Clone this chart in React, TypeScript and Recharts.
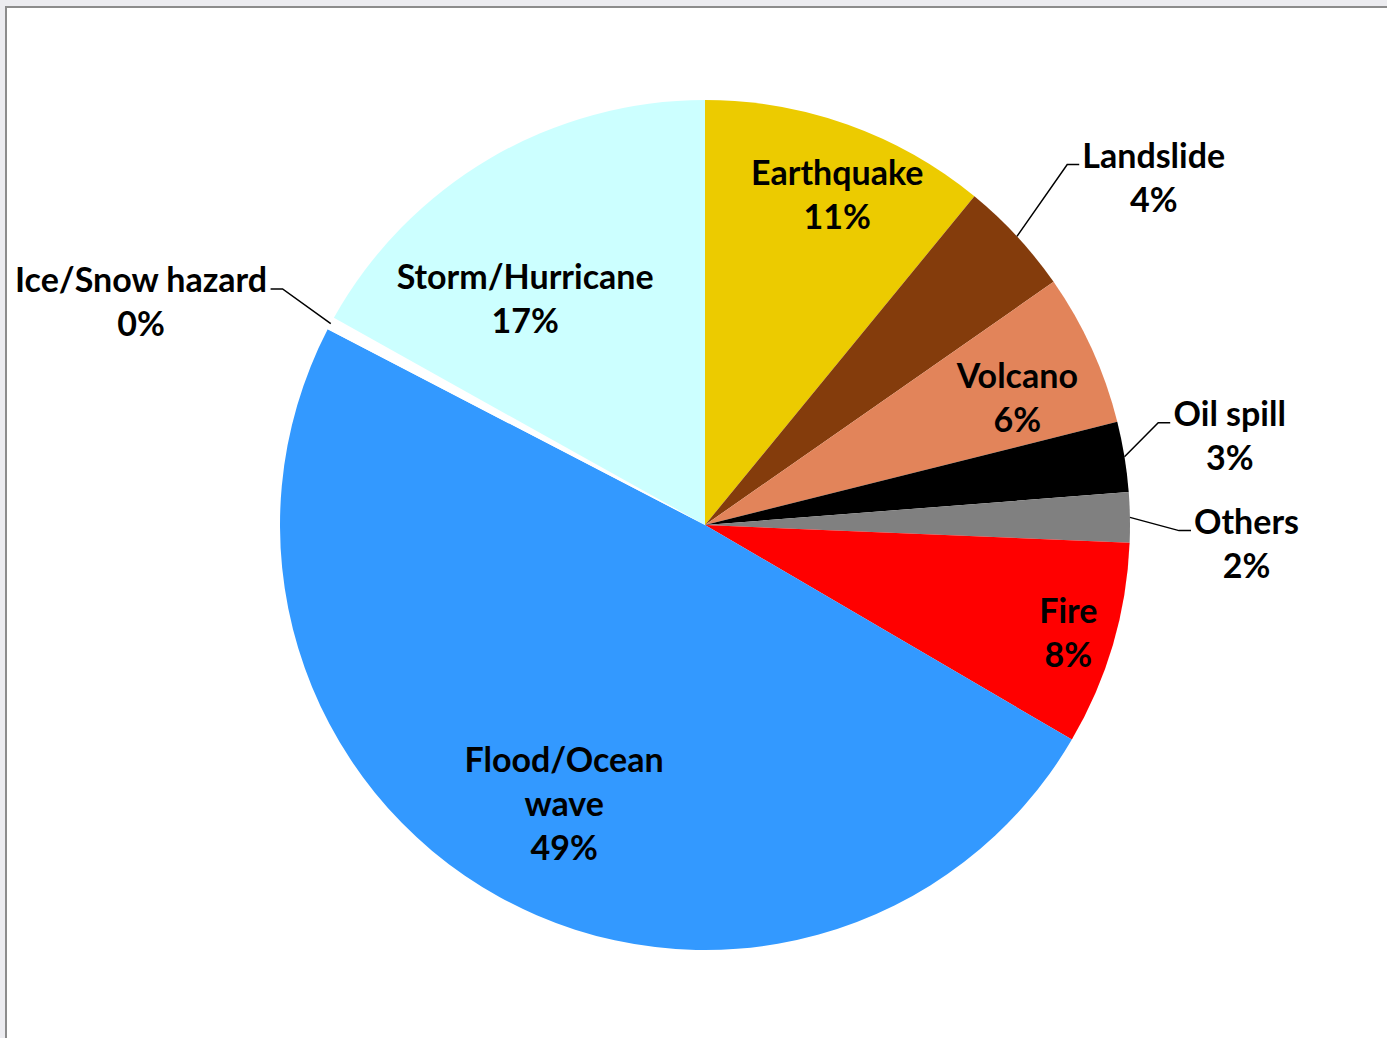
import React from 'react';
import { PieChart, Pie, Cell } from 'recharts';

// Hazard types share (percent)
const categories = [
  'Earthquake', 'Landslide', 'Volcano', 'Oil spill', 'Others',
  'Fire', 'Flood/Ocean wave', 'Ice/Snow hazard', 'Storm/Hurricane',
];
const shares = [10.93, 4.38, 5.79, 2.67, 1.9, 7.76, 49.2, 0.49, 16.9];
const colors = [
  '#ECCB00', '#843C0C', '#E2845A', '#000000', '#808080',
  '#FF0000', '#3399FF', '#FFFFFF', '#CCFFFF',
];
// label text lines (percent line is added from the data)
const labelLines: Record<string, string[]> = {
  'Flood/Ocean wave': ['Flood/Ocean', 'wave'],
};

// label placement: r = radius factor, da = angle nudge (deg, clockwise),
// outside labels get a leader line; w = text width for the line end
const labelStyle: Record<string, { r: number; da: number; out?: boolean; w?: number }> = {
  Earthquake: { r: 0.835, da: 2.2 },
  Landslide: { r: 1.334, da: 5.1, out: true, w: 143 },
  Volcano: { r: 0.793, da: 2.4 },
  'Oil spill': { r: 1.252, da: -0.3, out: true, w: 113 },
  Others: { r: 1.275, da: 3.1, out: true, w: 105 },
  Fire: { r: 0.892, da: 0.2 },
  'Flood/Ocean wave': { r: 0.736, da: -2.1 },
  'Ice/Snow hazard': { r: 1.426, da: -6.8, out: true, w: 253 },
  'Storm/Hurricane': { r: 0.678, da: -8.2 },
};

const data = categories.map((name, i) => ({ name, value: shares[i] }));
const total = shares.reduce((a, b) => a + b, 0);

const FONT = 'Lato, "Open Sans", sans-serif';
const RAD = Math.PI / 180;

function SliceLabel(props: any) {
  const { cx, cy, midAngle, outerRadius, name, value } = props;
  const st = labelStyle[name];
  if (!st) return null;
  // clockwise-from-top angle
  const theta = 90 - midAngle + st.da;
  const r = outerRadius * st.r;
  const x = cx + r * Math.sin(theta * RAD);
  const y = cy - r * Math.cos(theta * RAD);
  const lines = [...(labelLines[name] || [name]), `${Math.round((value / total) * 100)}%`];
  const lh = 44;
  const top = y - ((lines.length - 1) * lh) / 2 - 2;

  let leader = null;
  if (st.out) {
    const side = x > cx ? 1 : -1;
    const ea = (90 - midAngle) * RAD;
    const ex = cx + outerRadius * Math.sin(ea);
    const ey = cy - outerRadius * Math.cos(ea);
    const ly = y - 14;
    const endX = x - side * ((st.w || 0) / 2 + 3);
    const elbowX = endX - side * 12;
    leader = (
      <polyline
        points={`${ex},${ey} ${elbowX},${ly} ${endX},${ly}`}
        fill="none"
        stroke="#000"
        strokeWidth={1.5}
      />
    );
  }

  return (
    <g>
      {leader}
      {lines.map((t, i) => (
        <text
          key={i}
          x={x}
          y={top + i * lh}
          textAnchor="middle"
          dominantBaseline="central"
          fontFamily={FONT}
          fontWeight={700}
          fontSize={34}
          fill="#000"
        >
          {t}
        </text>
      ))}
    </g>
  );
}

export default function App() {
  return (
    <div style={{ position: 'fixed', left: 0, top: 0, width: 1387, height: 1038, background: '#ECECF0' }}>
      {/* window frame */}
      <div
        style={{
          position: 'absolute', left: 5, top: 6, right: 0, bottom: 0,
          background: '#fff', borderLeft: '2px solid #8C8C8C', borderTop: '2px solid #8C8C8C',
        }}
      />
      <div style={{ position: 'absolute', left: 0, top: 0 }}>
        <PieChart width={1387} height={1038} margin={{ top: 0, right: 0, bottom: 0, left: 0 }}>
          <Pie
            data={data}
            dataKey="value"
            nameKey="name"
            cx={705}
            cy={525}
            outerRadius={425}
            startAngle={90}
            endAngle={-270}
            stroke="none"
            label={SliceLabel}
            labelLine={false}
            isAnimationActive={false}
          >
            {data.map((d, i) => (
              <Cell key={d.name} fill={colors[i]} />
            ))}
          </Pie>
        </PieChart>
      </div>
    </div>
  );
}
